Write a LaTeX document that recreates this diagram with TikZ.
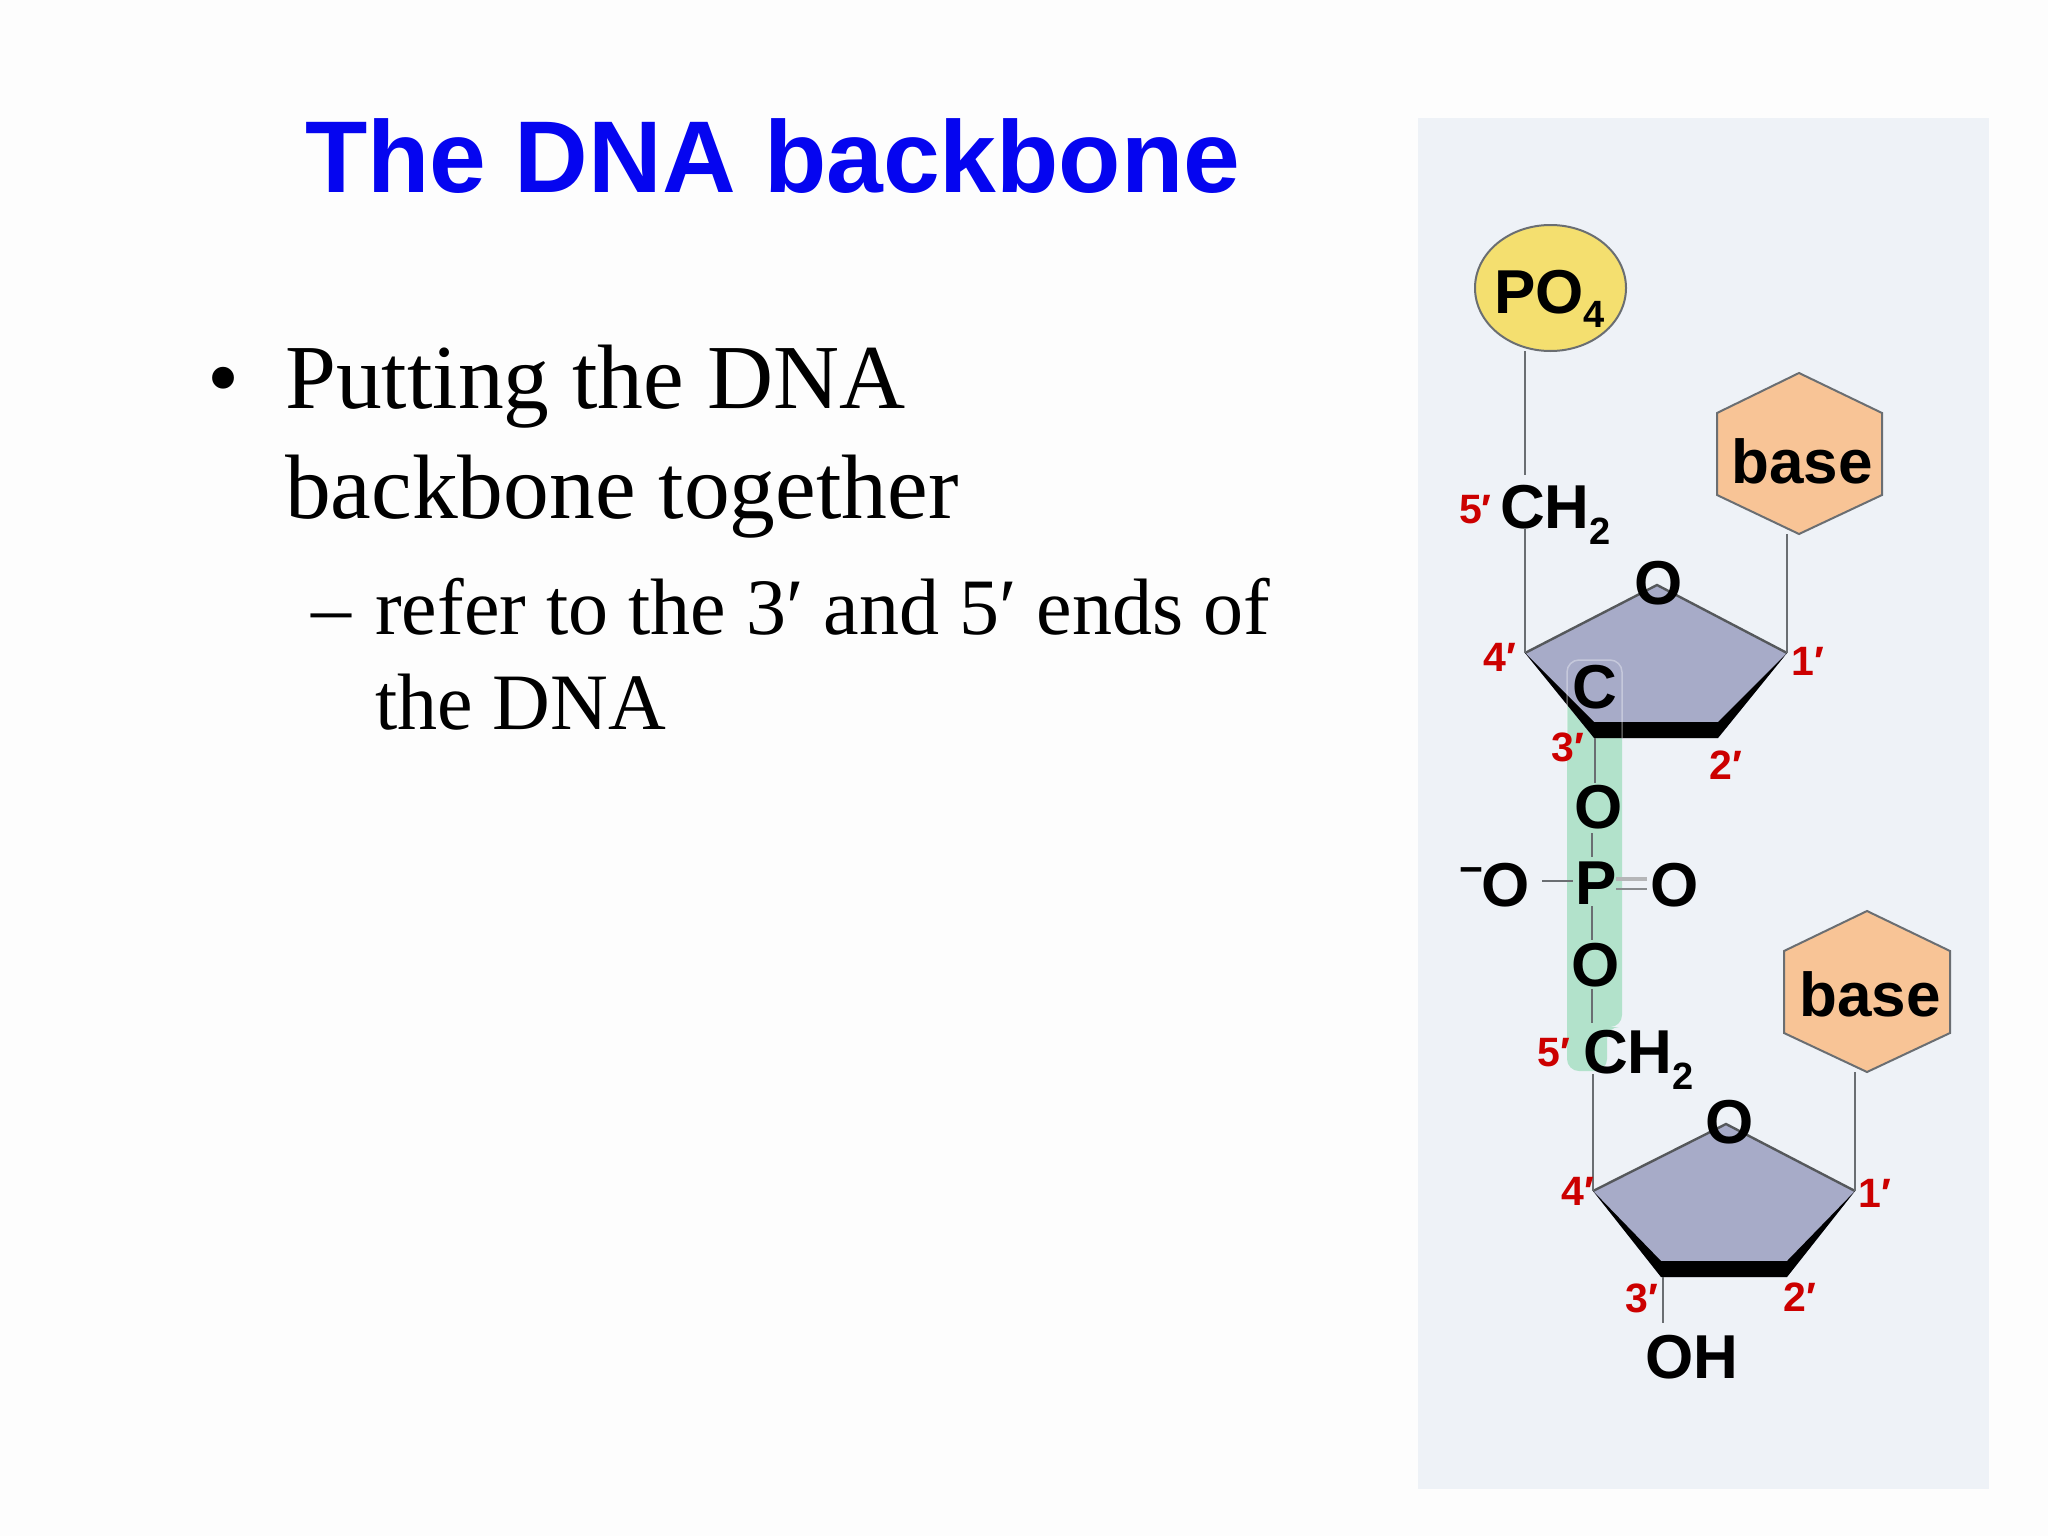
\documentclass[tikz,border=0pt]{standalone}
\usepackage{fontspec}
\usetikzlibrary{shapes.geometric}
\setmainfont{Liberation Sans}
\newfontfamily\serifbody{Liberation Serif}
\definecolor{pagebg}{HTML}{FDFDFD}
\definecolor{panelbg}{HTML}{EEF2F7}
\definecolor{ringfill}{HTML}{A7ABC8}
\definecolor{basefill}{HTML}{F8C496}
\definecolor{phosfill}{HTML}{F4DF6F}
\definecolor{bandgreen}{HTML}{B2E2CB}
\definecolor{primered}{HTML}{CC0000}
\definecolor{bondgray}{HTML}{6A6E72}
\definecolor{titleblue}{HTML}{0505F0}
\tikzset{
  x=1pt,y=-1pt,
  atom/.style={inner sep=0pt,font=\fontsize{62}{62}\selectfont\bfseries,text=black},
  tag/.style={inner sep=0pt,font=\fontsize{41}{41}\selectfont\bfseries,text=primered},
  bond/.style={draw=bondgray,line width=2.6pt},
  ringedge/.style={draw=bondgray!80!black,line width=2.4pt},
  hexbase/.style={draw=bondgray,line width=2pt,fill=basefill},
  bodyL/.style={anchor=base west,inner sep=0pt,font=\serifbody\fontsize{91.5}{91.5}\selectfont,text=black},
  bodyS/.style={anchor=base west,inner sep=0pt,font=\serifbody\fontsize{80}{80}\selectfont,text=black},
  txt/.style={anchor=base west,inner sep=0pt},
}
\begin{document}
\begin{tikzpicture}
\useasboundingbox (0,0) rectangle (2048,1536);
\fill[pagebg] (0,0) rectangle (2048,1536);
\fill[panelbg] (1418,118) rectangle (1989,1489);
% title + text
\node[txt,font=\fontsize{102}{102}\selectfont\bfseries,text=titleblue] (title) at (305,193) {The DNA backbone};
\node[bodyL] (bul) at (207,408) {•};
\node[bodyL] (l1) at (285,408) {Putting the DNA};
\node[bodyL] (l2) at (285,518) {backbone together};
\node[bodyS] (dash) at (311,634) {–};
\node[bodyS] (l3) at (375,634) {refer to the 3′ and 5′ ends of};
\node[bodyS] (l4) at (375,729) {the DNA};
% green band
\fill[bandgreen,rounded corners=12pt] (1567,660) -- (1622,660) -- (1622,1027) -- (1607,1027) -- (1607,1071) -- (1567,1071) -- cycle;
% top ring
\coordinate (a4) at (1525,653);
\coordinate (aO) at (1657,585);
\coordinate (a1) at (1787,653);
\coordinate (a2) at (1718,738);
\coordinate (a3) at (1594,738);
\fill[ringfill] (a4) -- (aO) -- (a1) -- (a2) -- (a3) -- cycle;
\draw[ringedge] (a4) -- (aO) -- (a1);
\fill[black] (a4) -- (1594,722) -- (1718,722) -- (a1) -- (a2) -- (a3) -- cycle;
% bottom ring
\coordinate (b4) at (1593,1191);
\coordinate (bO) at (1726,1124);
\coordinate (b1) at (1855,1191);
\coordinate (b2) at (1787,1277);
\coordinate (b3) at (1661,1277);
\fill[ringfill] (b4) -- (bO) -- (b1) -- (b2) -- (b3) -- cycle;
\draw[ringedge] (b4) -- (bO) -- (b1);
\fill[black] (b4) -- (1661,1261) -- (1787,1261) -- (b1) -- (b2) -- (b3) -- cycle;
% pale outline of the band over the ring
\draw[white,opacity=.35,line width=1.5pt,rounded corners=12pt] (1567,738) -- (1567,660) -- (1622,660) -- (1622,738);
% shapes
\node[ellipse,draw=bondgray,line width=2pt,fill=phosfill,minimum width=151pt,minimum height=126pt,inner sep=0pt] (po4) at (1550.5,288) {};
\path (1799,373) coordinate (h1) (1882,413) coordinate (h2) (1882,495) coordinate (h3) (1799,534) coordinate (h4) (1717,495) coordinate (h5) (1717,413) coordinate (h6);
\draw[hexbase] (h1) -- (h2) -- (h3) -- (h4) -- (h5) -- (h6) -- cycle;
\path (1867,911) coordinate (k1) (1950,951) coordinate (k2) (1950,1033) coordinate (k3) (1867,1072) coordinate (k4) (1784,1033) coordinate (k5) (1784,951) coordinate (k6);
\draw[hexbase] (k1) -- (k2) -- (k3) -- (k4) -- (k5) -- (k6) -- cycle;
% atoms
\node[atom,txt] (po4t) at (1494,313) {PO\raisebox{-14pt}{\fontsize{38}{38}\selectfont 4}};
\node[atom,txt] (basea) at (1731,483) {base};
\node[atom,txt] (ch2a) at (1500,528) {CH\raisebox{-16pt}{\fontsize{38}{38}\selectfont 2}};
\node[atom] (oa) at (1659,583) {O};
\node[atom] (ca) at (1595,687) {C};
\node[atom] (o1) at (1599,807) {O};
\node[atom] (p) at (1596,883) {P};
\node[atom] (om) at (1506,885) {O};
\node[atom] (minus) at (1471,876) {\fontsize{41}{41}\selectfont −};
\node[atom] (o2) at (1675,885) {O};
\node[atom] (o3) at (1596,965) {O};
\node[atom,txt] (ch2b) at (1583,1073) {CH\raisebox{-16pt}{\fontsize{38}{38}\selectfont 2}};
\node[atom,txt] (baseb) at (1799,1016) {base};
\node[atom] (ob) at (1730,1122) {O};
\node[atom,txt] (oh) at (1645,1378) {OH};
% bonds
\coordinate (e1) at (1525,351);
\coordinate (e2) at (1525,475);
\coordinate (e3) at (1525,528);
\draw[bond] (e1) -- (e2);
\draw[bond] (e3) -- (a4);
\coordinate (e4) at (1787,534);
\draw[bond] (e4) -- (a1);
\coordinate (e5) at (1595,738); \coordinate (e6) at (1595,783);
\draw[bond] (e5) -- (e6);
\coordinate (e7) at (1592,833); \coordinate (e8) at (1592,857);
\draw[bond] (e7) -- (e8);
\coordinate (e9) at (1592,906); \coordinate (e10) at (1592,940);
\draw[bond] (e9) -- (e10);
\coordinate (e11) at (1592,989); \coordinate (e12) at (1592,1023);
\draw[bond] (e11) -- (e12);
\coordinate (e13) at (1542,881); \coordinate (e14) at (1573,881);
\draw[bond] (e13) -- (e14);
\coordinate (e15) at (1616,879); \coordinate (e16) at (1647,879);
\draw[draw=bondgray!50,line width=4pt] (e15) -- (e16);
\coordinate (e17) at (1616,889); \coordinate (e18) at (1647,889);
\draw[draw=bondgray!80,line width=2pt] (e17) -- (e18);
\coordinate (e19) at (1593,1074);
\draw[bond] (e19) -- (b4);
\coordinate (e20) at (1855,1072);
\draw[bond] (e20) -- (b1);
\coordinate (e21) at (1663,1277); \coordinate (e22) at (1663,1323);
\draw[bond] (e21) -- (e22);
% primes
\node[tag] (t5a) at (1475.5,510) {5′};
\node[tag] (t4a) at (1500,657) {4′};
\node[tag] (t1a) at (1808,661) {1′};
\node[tag] (t3a) at (1568,747) {3′};
\node[tag] (t2a) at (1726,765) {2′};
\node[tag] (t5b) at (1554,1053) {5′};
\node[tag] (t4b) at (1578,1191) {4′};
\node[tag] (t1b) at (1875,1193) {1′};
\node[tag] (t3b) at (1642,1298) {3′};
\node[tag] (t2b) at (1800,1297) {2′};
\end{tikzpicture}
\end{document}
